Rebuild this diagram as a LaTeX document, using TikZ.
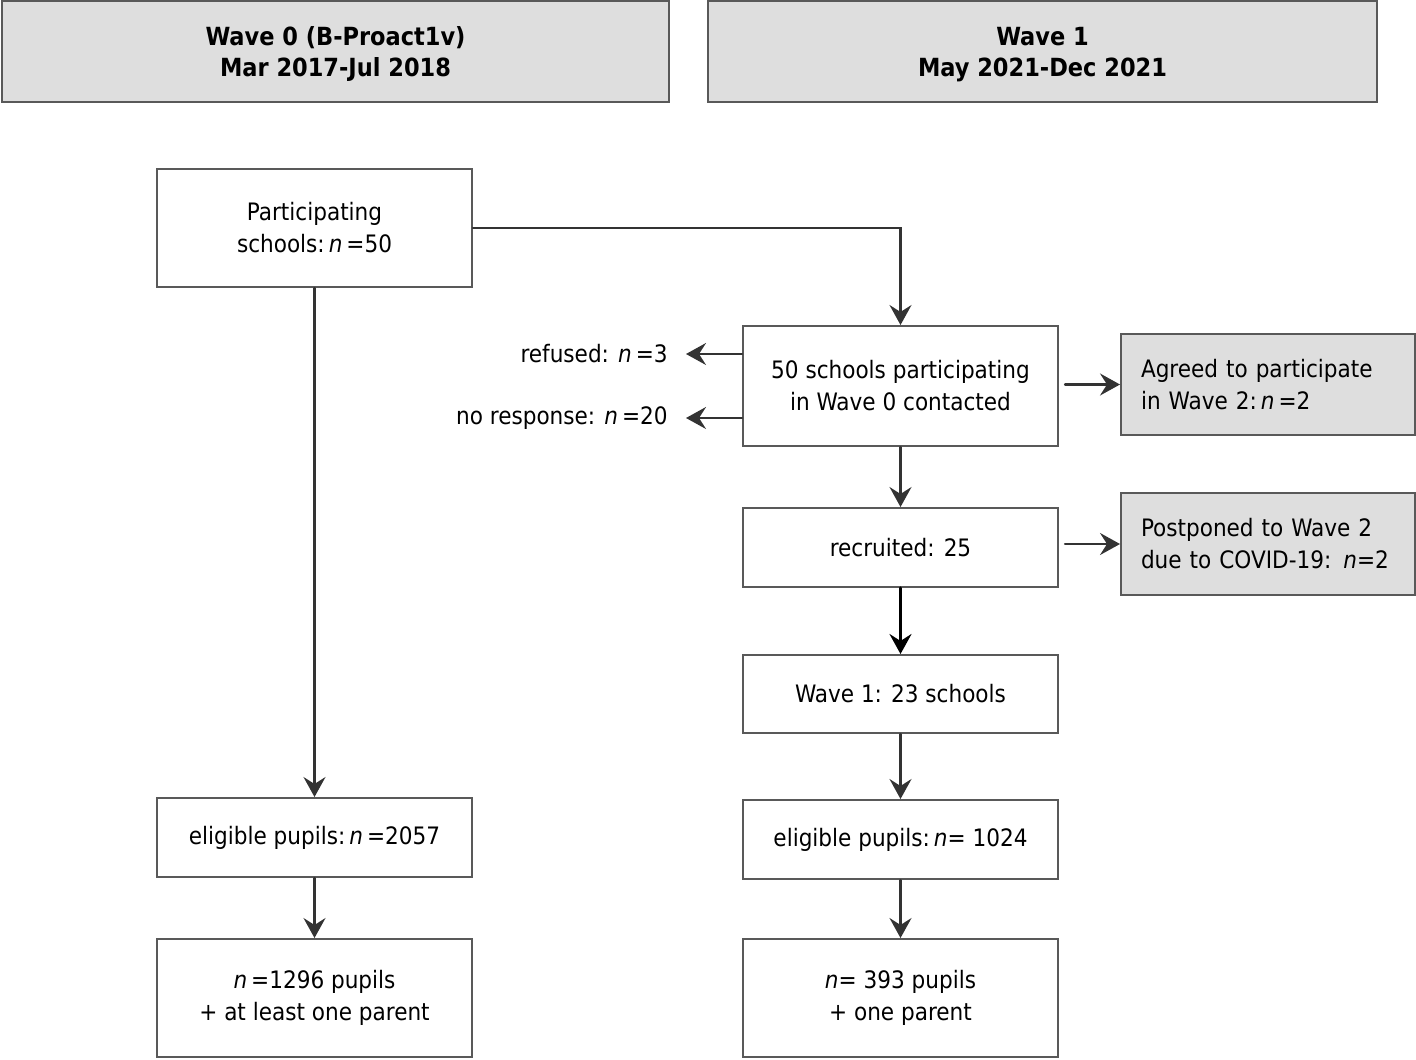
\documentclass[tikz,border=0pt]{standalone}
\usepackage{fontspec}
\setmainfont{DejaVu Sans Condensed}
\usepackage{tikz}
\usetikzlibrary{arrows.meta, calc}
\definecolor{boxGray}{rgb}{0.87, 0.87, 0.87}
\definecolor{edgeGray}{rgb}{0.35, 0.35, 0.35}
\tikzset{
	box/.style={draw=edgeGray, line width=1pt, fill=white, align=center, minimum width=157.5pt, inner sep=0pt},
	headbox/.style={box, fill=boxGray, minimum height=50.5pt, font=\bfseries\fontsize{12.5}{15.5}\selectfont},
	sidebox/.style={box, fill=boxGray, align=left, text width=127pt, minimum width=147pt, inner xsep=10pt, minimum height=50.5pt},
	arr/.style={-{Stealth[length=10pt, width=11pt, inset=3.5pt]}, line width=1.1pt, draw=black!80},
	txt/.style={font=\fontsize{12}{16}\selectfont}
}
\def\scale{0.5pt}

\begin{document}
\begin{tikzpicture}[x=\scale, y=-\scale, line cap = round, every node/.style={txt}]
	\useasboundingbox (0,0) rectangle (1416,1059);

	% headers
	\node[headbox, minimum width=333.5pt] (head0) at (335.5,51.5) {\rule{0pt}{12pt}Wave 0 (B-Proact1v)\\Mar 2017-Jul 2018};
	\node[headbox, minimum width=334.5pt] (head1) at (1042.5,51.5) {\rule{0pt}{12pt}Wave 1\\May 2021-Dec 2021};

	% wave 0 column
	\node[box, minimum height=59pt] (part) at (314.5,228) {Participating\\schools:\,\textit{n}\,=50};
	\node[box, minimum height=39.5pt] (elig0) at (314.5,837.5) {eligible pupils:\,\textit{n}\,=2057};
	\node[box, minimum height=59pt] (final0) at (314.5,998) {\textit{n}\,=1296 pupils\\+ at least one parent};

	% wave 1 column
	\node[box, minimum height=60pt] (contact) at (900.5,386) {50 schools participating\\in Wave 0 contacted};
	\node[box, minimum height=39.5pt] (recruit) at (900.5,547.5) {recruited: 25};
	\node[box, minimum height=39pt] (wave1) at (900.5,694) {Wave 1: 23 schools};
	\node[box, minimum height=39.5pt] (elig1) at (900.5,839.5) {eligible pupils:\,\textit{n}= 1024};
	\node[box, minimum height=59pt] (final1) at (900.5,998) {\textit{n}= 393 pupils\\+ one parent};

	% side boxes
	\node[sidebox] (agreed) at (1268,384.5) {Agreed to participate\\in Wave 2:\,\textit{n}\,=2};
	\node[sidebox, minimum height=51pt] (postponed) at (1268,544) {Postponed to Wave 2\\due to COVID-19: \textit{n}=2};

	% drop outs
	\node[anchor=east, inner xsep=9pt] (refused) at (686,354) {refused: \textit{n}\,=3};
	\node[anchor=east, inner xsep=9pt] (noresp) at (686,418) {no response: \textit{n}\,=20};

	\draw[arr] (part.east) -| (contact.north);
	\draw[arr] (part) -- (elig0);
	\draw[arr] (elig0) -- (final0);
	\draw[arr] (contact.west |- refused.east) -- (refused.east);
	\draw[arr] (contact.west |- noresp.east) -- (noresp.east);
	\draw[arr, shorten <=3pt] (contact.east |- agreed.west) -- (agreed.west);
	\draw[arr, shorten <=3pt] (recruit.east |- postponed.west) -- (postponed.west);
	\draw[arr] (contact) -- (recruit);
	\draw[arr, line width=1.6pt, draw=black] (recruit) -- (wave1);
	\draw[arr] (wave1) -- (elig1);
	\draw[arr] (elig1) -- (final1);

\end{tikzpicture}
\end{document}
